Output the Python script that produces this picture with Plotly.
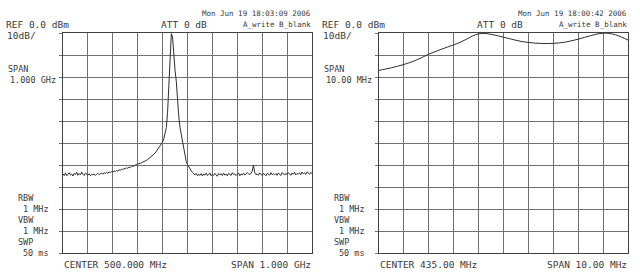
import numpy as np
import plotly.graph_objects as go

# ---------------- DATA ----------------
# Left screen: 0 - 1000 MHz sweep, 5 MHz per point
left_freq_mhz = list(np.arange(0, 1001, 5))
left_level_dbm = [
    -64.0, -64.8, -63.6, -64.9, -64.2, -63.5, -64.6, -64.1, -65.0, -63.8,
    -64.4, -63.3, -64.7, -63.9, -64.5, -63.2, -64.2, -64.8, -63.7, -64.3,
    -64.6, -64.0, -64.9, -64.3, -64.5, -64.1, -64.7, -64.2, -63.8, -64.4,
    -64.0, -63.6, -64.2, -63.5, -63.9, -63.3, -63.8, -63.1, -63.5, -63.0,
    -63.2, -62.7, -63.0, -62.5, -62.8, -62.2, -62.4, -61.9, -62.1, -61.6,
    -61.8, -61.3, -61.5, -61.0, -61.1, -60.6, -60.7, -60.3, -60.2, -59.8,
    -59.6, -59.5, -59.2, -59.0, -58.7, -58.5, -58.2, -57.9, -57.5, -57.1,
    -56.7, -56.2, -55.7, -55.1, -54.5, -53.8, -53.0, -52.2, -51.3, -50.3,
    -49.5, -48.0, -46.0, -43.0, -36.0, -23.0, -10.0, -0.3, -1.8, -12.0,
    -17.0, -22.0, -31.0, -38.0, -43.0, -46.5, -49.0, -52.0, -56.0, -58.5,
    -59.8, -60.9, -61.8, -62.6, -63.4, -63.9, -64.5, -63.8, -64.9, -64.2,
    -64.7, -63.9, -65.0, -64.1, -64.6, -63.7, -64.8, -64.3, -63.6, -64.9,
    -64.2, -64.7, -63.8, -64.5, -65.1, -63.9, -64.4, -64.0, -64.8, -63.7,
    -64.6, -64.1, -64.9, -63.8, -64.3, -64.7, -63.5, -64.4, -64.0, -64.8,
    -64.2, -63.6, -64.9, -64.1, -64.5, -63.7, -64.6, -64.2, -63.4, -64.0,
    -64.3, -63.9, -62.8, -60.0, -63.5, -64.4, -64.0, -64.7, -63.6, -64.2,
    -64.8, -63.7, -64.3, -64.9, -63.8, -64.1, -64.6, -63.5, -64.4, -64.0,
    -64.5, -63.9, -64.7, -63.6, -64.2, -64.8, -63.4, -64.1, -64.6, -63.8,
    -64.3, -63.5, -64.0, -64.7, -63.6, -64.2, -63.3, -64.5, -63.9, -64.1,
    -63.6, -64.4, -63.2, -64.0, -63.5, -64.3, -63.1, -63.8, -64.2, -63.4,
    -63.9,
]

# Right screen: 430 - 440 MHz sweep, 0.25 MHz per point
right_freq_mhz = list(np.arange(430.0, 440.001, 0.25))
right_level_dbm = [
    -17.0, -16.4, -15.8, -15.1, -14.3, -13.4, -12.3, -11.0,
    -9.6, -8.5, -7.4, -6.4, -5.4, -4.3, -2.9, -1.4,
    -0.4, -0.2, -0.6, -1.2, -1.9, -2.6, -3.3, -3.9,
    -4.3, -4.6, -4.75, -4.8, -4.7, -4.5, -4.1, -3.5,
    -2.8, -2.0, -1.2, -0.5, -0.1, -0.2, -0.8, -1.9,
    -3.2,
]

left_center, left_span = 500.0, 1000.0
right_center, right_span = 435.0, 10.0
ref_level, db_per_div = 0.0, 10.0

left_texts = {
    "date": "Mon Jun 19 18:03:09 2006",
    "center": "CENTER 500.000 MHz",
    "span_bottom": "SPAN 1.000 GHz",
    "span_val": "1.000 GHz",
}
right_texts = {
    "date": "Mon Jun 19 18:00:42 2006",
    "center": "CENTER 435.00 MHz",
    "span_bottom": "SPAN 10.00 MHz",
    "span_val": "10.00 MHz",
}

# ---------------- FIGURE ----------------
W, H = 640, 276
TXT = "#3a3a3a"
GRID = "#707070"
FONT = "DejaVu Sans Mono"

fig = go.Figure()
fig.add_trace(go.Scatter(x=left_freq_mhz, y=left_level_dbm, mode="lines",
                         line=dict(color="#2e2e2e", width=1), xaxis="x", yaxis="y",
                         showlegend=False, hoverinfo="skip"))
fig.add_trace(go.Scatter(x=right_freq_mhz, y=right_level_dbm, mode="lines",
                         line=dict(color="#2e2e2e", width=1, shape="spline"),
                         xaxis="x2", yaxis="y2", showlegend=False, hoverinfo="skip"))

def px(x):
    return x / W

def py(y):
    return 1 - y / H

ytop, ybot = 33, 253
panels = [(63, 312), (379, 628)]

def xaxis_cfg(x0, x1, center, span):
    return dict(domain=[px(x0), px(x1)], range=[center - span / 2, center + span / 2],
                tick0=center - span / 2, dtick=span / 10, showticklabels=False,
                showgrid=True, gridcolor=GRID, gridwidth=1, zeroline=False,
                showline=True, linecolor="#404040", linewidth=1, mirror=True,
                ticks="", fixedrange=True)

def yaxis_cfg(anchor):
    return dict(domain=[py(ybot), py(ytop)], range=[ref_level - 10 * db_per_div, ref_level],
                tick0=0, dtick=db_per_div, showticklabels=False,
                showgrid=True, gridcolor=GRID, gridwidth=1, zeroline=False,
                showline=True, linecolor="#404040", linewidth=1, mirror=True,
                ticks="outside", ticklen=3, tickcolor=GRID, anchor=anchor, fixedrange=True)

fig.update_layout(
    width=W, height=H, margin=dict(l=0, r=0, t=0, b=0),
    paper_bgcolor="white", plot_bgcolor="white",
    xaxis=dict(xaxis_cfg(*panels[0], left_center, left_span), anchor="y"),
    yaxis=yaxis_cfg("x"),
    xaxis2=dict(xaxis_cfg(*panels[1], right_center, right_span), anchor="y2"),
    yaxis2=yaxis_cfg("x2"),
)

annotations = []

def label(text, x, y, anchor="left", size=9.5):
    annotations.append(dict(text=text, x=px(x), y=py(y), xref="paper", yref="paper",
                            xanchor=anchor, yanchor="middle", showarrow=False,
                            borderpad=0,
                            font=dict(family=FONT, size=size, color=TXT)))

for (gx0, gx1), texts in zip(panels, [left_texts, right_texts]):
    off = gx0 - 63
    label("REF 0.0 dBm", 5 + off, 24.5)
    label("10dB/", 6 + off, 35.5)
    label("ATT 0 dB", 160 + off, 24.5)
    label(texts["date"], gx1, 13.5, "right", 7.5)
    label("A_write B_blank", gx1, 24.5, "right", 7.5)
    label("SPAN", 7 + off, 69, size=8.5)
    label(texts["span_val"], 57 + off, 80, "right", 8.5)
    label("RBW", 17 + off, 198, size=8.5)
    label("1 MHz", 50 + off, 209, "right", 8.5)
    label("VBW", 17 + off, 220, size=8.5)
    label("1 MHz", 50 + off, 231, "right", 8.5)
    label("SWP", 17 + off, 242, size=8.5)
    label("50 ms", 50 + off, 253, "right", 8.5)
    label(texts["center"], gx0, 264)
    label(texts["span_bottom"], gx1, 264, "right")

fig.update_layout(annotations=annotations)
fig.write_html("out.html")
